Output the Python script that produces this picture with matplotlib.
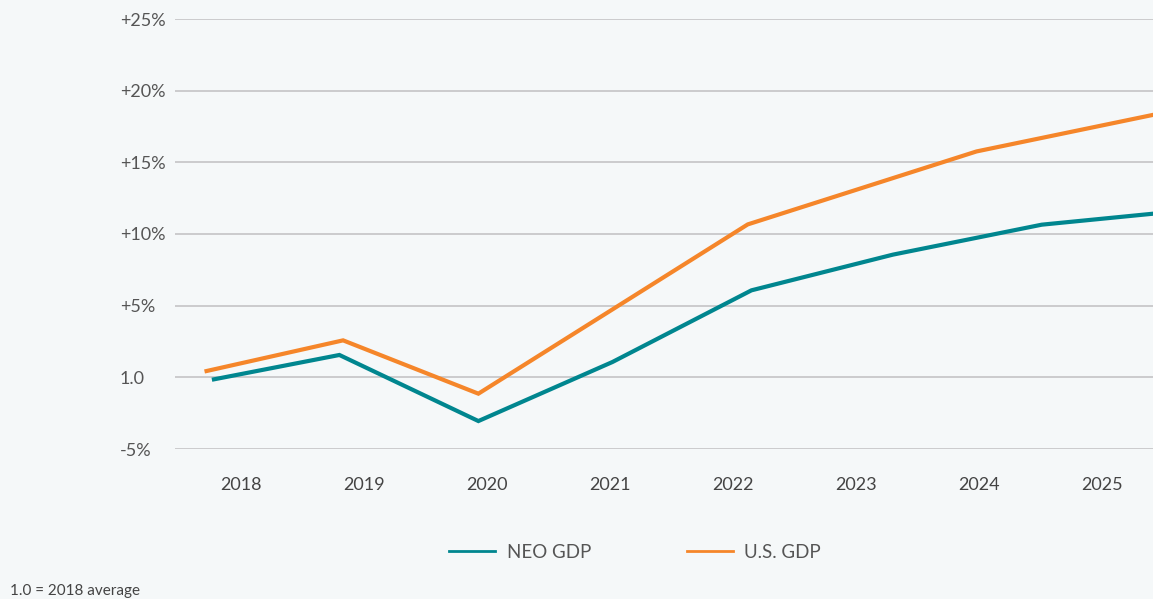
import matplotlib.pyplot as plt

# data: x in fractional years, values in % vs 2018 average
neo_x = [2017.78, 2018.80, 2019.93, 2021.02, 2022.15, 2023.30, 2024.51, 2025.42]
neo_y = [-0.14, 1.56, -3.05, 1.07, 6.07, 8.56, 10.65, 11.42]
us_x = [2017.72, 2018.83, 2019.93, 2022.12, 2023.98, 2025.42]
us_y = [0.44, 2.58, -1.14, 10.67, 15.76, 18.32]

years = [2018, 2019, 2020, 2021, 2022, 2023, 2024, 2025]
yticks = [-5, 0, 5, 10, 15, 20, 25]
ylabels = ["-5%", "1.0", "+5%", "+10%", "+15%", "+20%", "+25%"]

teal = "#00868f"
orange = "#f5862a"
bg = "#f5f8f9"

plt.rcParams['font.family'] = ['Lato', 'DejaVu Sans']

fig = plt.figure(figsize=(11.53, 5.99), dpi=100, facecolor=bg)
ax = fig.add_axes([175/1153, 1-449/599, 1-175/1153, (449-19)/599])
ax.set_facecolor(bg)

ax.plot(neo_x, neo_y, color=teal, lw=3, label="NEO GDP", solid_joinstyle='miter')
ax.plot(us_x, us_y, color=orange, lw=3, label="U.S. GDP", solid_joinstyle='miter')

ax.set_xlim(2018 + (175-241)/123, 2018 + (1153-241)/123)
ax.set_ylim(-5, 25)

ax.set_yticks(yticks)
ax.set_yticklabels(ylabels)
ax.set_xticks(years)
ax.set_xticklabels([str(y) for y in years])
ax.tick_params(axis='y', length=0, pad=39.6, labelsize=13, labelcolor="#555555")
ax.tick_params(axis='x', length=0, pad=20, labelsize=13, labelcolor="#444444")
for lab in ax.get_yticklabels():
    lab.set_horizontalalignment('left')

ax.grid(axis='y', color="#c4c4c6", lw=1.2)
ax.set_axisbelow(True)
for s in ax.spines.values():
    s.set_visible(False)

leg = fig.legend(loc='center', bbox_to_anchor=(635/1153, 1-552/599), ncol=2, frameon=False,
                 fontsize=13.5, handlelength=2.45, columnspacing=5.1, handletextpad=0.6,
                 labelcolor="#555555")
for h in leg.legend_handles:
    h.set_linewidth(2)

fig.text(10/1153, 1-591/599, "1.0 = 2018 average", fontsize=11, color="#444444", va='center')

fig.savefig("out.png", dpi=100, facecolor=bg)
